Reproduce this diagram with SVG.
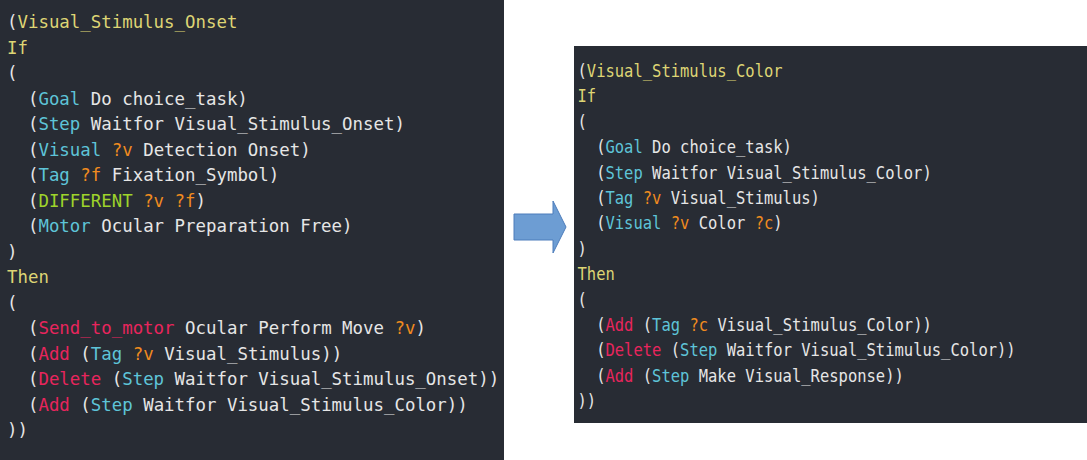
<svg xmlns="http://www.w3.org/2000/svg" width="1087" height="460" viewBox="0 0 1087 460">
<style>
.bg{fill:#282c34}
text{font-family:"DejaVu Sans Mono","Liberation Mono",monospace;font-size:17.4px;fill:#e6e6e6;white-space:pre}
.y{fill:#ded574}
.c{fill:#5ec4d8}
.p{fill:#e8255d}
.g{fill:#9fd42b}
.o{fill:#f08b1f}
</style>
<rect width="1087" height="460" fill="#ffffff"/>
<g id="panel-onset">
<rect class="bg" x="0" y="0" width="504" height="460"/>
<text xml:space="preserve" x="7" y="28">(<tspan class="y">Visual_Stimulus_Onset</tspan></text>
<text xml:space="preserve" x="7" y="53.5" class="y">If</text>
<text xml:space="preserve" x="7" y="79">(</text>
<text xml:space="preserve" x="7" y="104.5">  (<tspan class="c">Goal</tspan> Do choice_task)</text>
<text xml:space="preserve" x="7" y="130">  (<tspan class="c">Step</tspan> Waitfor Visual_Stimulus_Onset)</text>
<text xml:space="preserve" x="7" y="155.5">  (<tspan class="c">Visual</tspan> <tspan class="o">?v</tspan> Detection Onset)</text>
<text xml:space="preserve" x="7" y="181">  (<tspan class="c">Tag</tspan> <tspan class="o">?f</tspan> Fixation_Symbol)</text>
<text xml:space="preserve" x="7" y="206.5">  (<tspan class="g">DIFFERENT</tspan> <tspan class="o">?v</tspan> <tspan class="o">?f</tspan>)</text>
<text xml:space="preserve" x="7" y="232">  (<tspan class="c">Motor</tspan> Ocular Preparation Free)</text>
<text xml:space="preserve" x="7" y="257.5">)</text>
<text xml:space="preserve" x="7" y="283" class="y">Then</text>
<text xml:space="preserve" x="7" y="308.5">(</text>
<text xml:space="preserve" x="7" y="334">  (<tspan class="p">Send_to_motor</tspan> Ocular Perform Move <tspan class="o">?v</tspan>)</text>
<text xml:space="preserve" x="7" y="359.5">  (<tspan class="p">Add</tspan> (<tspan class="c">Tag</tspan> <tspan class="o">?v</tspan> Visual_Stimulus))</text>
<text xml:space="preserve" x="7" y="385">  (<tspan class="p">Delete</tspan> (<tspan class="c">Step</tspan> Waitfor Visual_Stimulus_Onset))</text>
<text xml:space="preserve" x="7" y="410.5">  (<tspan class="p">Add</tspan> (<tspan class="c">Step</tspan> Waitfor Visual_Stimulus_Color))</text>
<text xml:space="preserve" x="7" y="436">))</text>
</g>
<g id="panel-color">
<rect class="bg" x="574" y="46" width="513" height="377"/>
<g transform="translate(577.5,0) scale(0.89,1)">
<text xml:space="preserve" x="0" y="77">(<tspan class="y">Visual_Stimulus_Color</tspan></text>
<text xml:space="preserve" x="0" y="102.4" class="y">If</text>
<text xml:space="preserve" x="0" y="127.8">(</text>
<text xml:space="preserve" x="0" y="153.2">  (<tspan class="c">Goal</tspan> Do choice_task)</text>
<text xml:space="preserve" x="0" y="178.6">  (<tspan class="c">Step</tspan> Waitfor Visual_Stimulus_Color)</text>
<text xml:space="preserve" x="0" y="204">  (<tspan class="c">Tag</tspan> <tspan class="o">?v</tspan> Visual_Stimulus)</text>
<text xml:space="preserve" x="0" y="229.4">  (<tspan class="c">Visual</tspan> <tspan class="o">?v</tspan> Color <tspan class="o">?c</tspan>)</text>
<text xml:space="preserve" x="0" y="254.8">)</text>
<text xml:space="preserve" x="0" y="280.2" class="y">Then</text>
<text xml:space="preserve" x="0" y="305.6">(</text>
<text xml:space="preserve" x="0" y="331">  (<tspan class="p">Add</tspan> (<tspan class="c">Tag</tspan> <tspan class="o">?c</tspan> Visual_Stimulus_Color))</text>
<text xml:space="preserve" x="0" y="356.4">  (<tspan class="p">Delete</tspan> (<tspan class="c">Step</tspan> Waitfor Visual_Stimulus_Color))</text>
<text xml:space="preserve" x="0" y="381.8">  (<tspan class="p">Add</tspan> (<tspan class="c">Step</tspan> Make Visual_Response))</text>
<text xml:space="preserve" x="0" y="407.2">))</text>
</g>
</g>
<g id="connectors">
<polygon points="514,214 553,214 553,201 566,227 553,253 553,240 514,240" fill="#6d9dd3" stroke="#4d7dbb" stroke-width="1"/>
</g>
</svg>
